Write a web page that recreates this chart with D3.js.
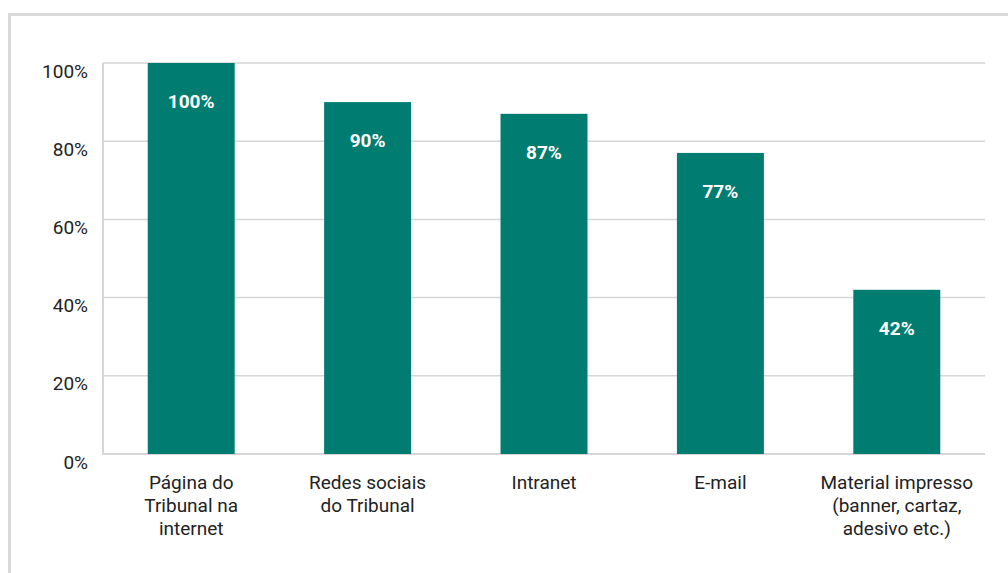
<!DOCTYPE html>
<html>
<head>
<meta charset="utf-8">
<script src="https://cdn.jsdelivr.net/npm/d3@7"></script>
<style>
  body { margin: 0; background: #fff; font-family: Roboto, "Noto Sans", sans-serif; }
  #chart { width: 1008px; height: 573px; }
</style>
</head>
<body>
<div id="chart"></div>
<script>
// chart data
const categories = [
    ["Página do", "Tribunal na", "internet"],
    ["Redes sociais", "do Tribunal"],
    ["Intranet"],
    ["E-mail"],
    ["Material impresso", "(banner, cartaz,", "adesivo etc.)"]
];
const values = [100, 90, 87, 77, 42];
const yTicks = [0, 20, 40, 60, 80, 100];

function createBarChart(containerId) {
    const container = document.getElementById(containerId);
    const W = 1008, H = 573;
    const margin = { top: 63, right: 23, bottom: 119, left: 103 };
    const width = W - margin.left - margin.right;
    const height = H - margin.top - margin.bottom;

    const svg = d3.create("svg")
        .attr("width", W)
        .attr("height", H);

    // outer frame
    svg.append("rect")
        .attr("x", 9.5)
        .attr("y", 14.5)
        .attr("width", W + 20)
        .attr("height", H + 20)
        .attr("fill", "none")
        .attr("stroke", "#d9d9d9")
        .attr("stroke-width", 3);

    const x = d3.scaleBand()
        .domain(d3.range(values.length))
        .range([0, width])
        .paddingInner(0.507)
        .paddingOuter(0.2535);

    const y = d3.scaleLinear()
        .domain([0, 100])
        .range([height, 0]);

    const g = svg.append("g")
        .attr("transform", `translate(${margin.left},${margin.top})`);

    // gridlines
    g.append("g")
        .selectAll("line")
        .data(yTicks)
        .join("line")
        .attr("x1", 0)
        .attr("x2", width)
        .attr("y1", d => y(d))
        .attr("y2", d => y(d))
        .attr("stroke", "#d6d6d6")
        .attr("stroke-width", d => d === 0 ? 2 : 1.5);

    // left axis line
    g.append("line")
        .attr("x1", 0).attr("x2", 0)
        .attr("y1", 0).attr("y2", height + 1)
        .attr("stroke", "#d6d6d6")
        .attr("stroke-width", 2);

    // y axis labels
    const yAxis = g.append("g")
        .call(d3.axisLeft(y).tickValues(yTicks).tickFormat(d => d + "%").tickSize(0).tickPadding(15));
    yAxis.select(".domain").remove();
    yAxis.selectAll("text")
        .attr("dy", "0.74em")
        .attr("font-family", "Roboto, sans-serif")
        .attr("font-size", 19)
        .attr("fill", "#222");

    // bars
    g.append("g")
        .selectAll("rect")
        .data(values)
        .join("rect")
        .attr("x", (d, i) => x(i))
        .attr("y", d => y(d))
        .attr("width", x.bandwidth())
        .attr("height", d => height - y(d))
        .attr("fill", "#007c70");

    // value labels
    g.append("g")
        .selectAll("text")
        .data(values)
        .join("text")
        .attr("x", (d, i) => x(i) + x.bandwidth() / 2)
        .attr("y", d => y(d) + 38)
        .attr("dy", "0.36em")
        .attr("text-anchor", "middle")
        .attr("font-family", "Roboto, sans-serif")
        .attr("font-weight", "bold")
        .attr("font-size", 19)
        .attr("fill", "#fff")
        .text(d => d + "%");

    // category labels
    const labels = g.append("g")
        .selectAll("text")
        .data(categories)
        .join("text")
        .attr("x", (d, i) => x(i) + x.bandwidth() / 2)
        .attr("y", height + 28)
        .attr("text-anchor", "middle")
        .attr("font-family", "Roboto, sans-serif")
        .attr("font-size", 19)
        .attr("fill", "#222");

    labels.selectAll("tspan")
        .data(d => d)
        .join("tspan")
        .attr("x", function () { return d3.select(this.parentNode).attr("x"); })
        .attr("dy", (d, i) => i === 0 ? "0.36em" : 23)
        .text(d => d);

    container.appendChild(svg.node());
}

createBarChart("chart");
</script>
</body>
</html>
